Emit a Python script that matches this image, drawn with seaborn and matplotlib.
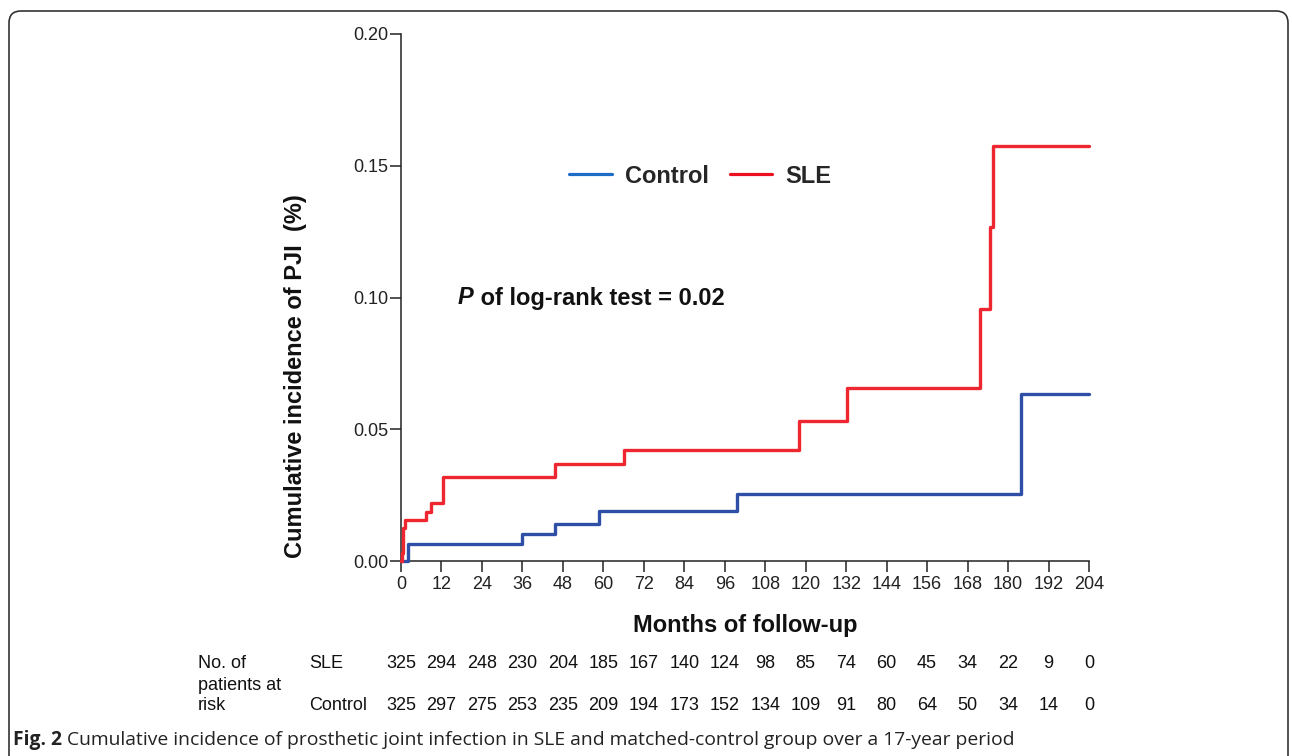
import matplotlib
matplotlib.use("Agg")
import matplotlib.pyplot as plt
import matplotlib.transforms as mtransforms
from matplotlib.patches import FancyBboxPatch
from matplotlib.lines import Line2D
import seaborn as sns
import pandas as pd

# Cumulative incidence (months, proportion)
sle_months = [0, 0.3, 0.7, 1.2, 7.4, 8.9, 12.4, 45.6, 66.1, 118.0, 132.2, 171.6, 174.6, 175.4, 204]
sle_inc = [0, 0.0032, 0.0126, 0.0155, 0.0187, 0.0221, 0.0319, 0.0367, 0.0421, 0.0531, 0.0657,
           0.0955, 0.1268, 0.1576, 0.1576]
control_months = [0, 2.0, 35.9, 45.6, 58.7, 99.5, 183.8, 204]
control_inc = [0, 0.0066, 0.0101, 0.0142, 0.0190, 0.0255, 0.0633, 0.0633]

# Number at risk table
risk_months = [0, 12, 24, 36, 48, 60, 72, 84, 96, 108, 120, 132, 144, 156, 168, 180, 192, 204]
sle_at_risk = [325, 294, 248, 230, 204, 185, 167, 140, 124, 98, 85, 74, 60, 45, 34, 22, 9, 0]
control_at_risk = [325, 297, 275, 253, 235, 209, 194, 173, 152, 134, 109, 91, 80, 64, 50, 34, 14, 0]

groups = ["Control", "SLE"]
line_colors = {"Control": "#2f4fa6", "SLE": "#ee2630"}
legend_colors = {"Control": "#1d6cc6", "SLE": "#ea1020"}

df = pd.concat([
    pd.DataFrame({"month": control_months, "inc": control_inc, "group": "Control"}),
    pd.DataFrame({"month": sle_months, "inc": sle_inc, "group": "SLE"}),
])

sns.set_style("white")
plt.rcParams["font.family"] = ["Liberation Sans", "DejaVu Sans"]

fig = plt.figure(figsize=(12.92, 7.56), dpi=100)
ax = fig.add_axes([401 / 1292, 1 - 561 / 756, 688 / 1292, 527 / 756])

sns.lineplot(data=df, x="month", y="inc", hue="group", palette=line_colors,
             drawstyle="steps-post", linewidth=2.4, legend=False, ax=ax,
             estimator=None, sort=False)
for ln in ax.lines:
    ln.set_clip_on(False)
    ln.set_zorder(3)

ax.set_xlim(0, 204)
ax.set_ylim(0, 0.2)
ax.set_xticks(risk_months)
ax.set_yticks([0, 0.05, 0.10, 0.15, 0.20])
ax.set_yticklabels(["0.00", "0.05", "0.10", "0.15", "0.20"])
sns.despine(ax=ax)
for s in ["left", "bottom"]:
    ax.spines[s].set_linewidth(1.1)
    ax.spines[s].set_color("#222222")
ax.tick_params(axis="both", direction="out", length=8, width=1.1, colors="#222222",
               labelsize=13, labelcolor="#222222")
ax.tick_params(axis="y", pad=1)
ax.tick_params(axis="x", pad=3)
ax.tick_params(left=True, bottom=True)

ax.set_xlabel("Months of follow-up", fontsize=17, fontweight="bold", color="#111111")
ax.xaxis.set_label_coords(0.5, -0.1)
ax.set_ylabel("Cumulative incidence of PJI  (%)", fontsize=17, fontweight="bold", color="#111111")
ax.yaxis.set_label_coords(-0.137, 0.35)

# legend
handles = [Line2D([0], [0], color=legend_colors[g], lw=2.3) for g in groups]
fig.legend(handles, groups, loc="center", bbox_to_anchor=(0.542, 0.767), ncol=2,
           frameon=False, handlelength=1.8, handletextpad=0.55, columnspacing=0.9,
           prop={"weight": "bold", "size": 17})

# p-value
t_p = fig.text(458 / 1292, 1 - 298 / 756, "P", fontsize=17, fontweight="bold",
               fontstyle="italic", va="center", ha="left", color="#111111")
ax.annotate(" of log-rank test = 0.02", xy=(1, 0.5), xycoords=t_p, va="center", ha="left",
            fontsize=17, fontweight="bold", color="#111111")

# number at risk table
trans = mtransforms.blended_transform_factory(ax.transData, fig.transFigure)
y_sle = 1 - 663 / 756
y_ctl = 1 - 706 / 756
for m, a, b in zip(risk_months, sle_at_risk, control_at_risk):
    ax.text(m, y_sle, str(a), transform=trans, ha="center", va="center", fontsize=13,
            color="#111111", clip_on=False)
    ax.text(m, y_ctl, str(b), transform=trans, ha="center", va="center", fontsize=13,
            color="#111111", clip_on=False)
fig.text(198 / 1292, y_sle, "No. of", fontsize=13, va="center", ha="left", color="#111111")
fig.text(198 / 1292, 1 - 685 / 756, "patients at", fontsize=13, va="center", ha="left", color="#111111")
fig.text(198 / 1292, y_ctl, "risk", fontsize=13, va="center", ha="left", color="#111111")
fig.text(309 / 1292, y_sle, "SLE", fontsize=13, va="center", ha="left", color="#111111")
fig.text(309 / 1292, y_ctl, "Control", fontsize=13, va="center", ha="left", color="#111111")

# caption
t_fig = fig.text(13 / 1292, 1 - 740 / 756, "Fig. 2", fontsize=13.9, fontweight="bold",
                 family=["Open Sans", "DejaVu Sans"], va="center", ha="left", color="#222222")
ax.annotate(" Cumulative incidence of prosthetic joint infection in SLE and matched-control group over a 17-year period",
            xy=(1, 0.5), xycoords=t_fig, va="center", ha="left", fontsize=13.9,
            family=["Open Sans", "DejaVu Sans"], color="#222222")

# rounded frame around the figure
frame = FancyBboxPatch((9, -30), 1279, 756 - 11 + 30, boxstyle="round,pad=0,rounding_size=12",
                       transform=mtransforms.IdentityTransform(), fill=False,
                       edgecolor="#333333", linewidth=1.2)
fig.add_artist(frame)

fig.savefig("out.png", dpi=100)
